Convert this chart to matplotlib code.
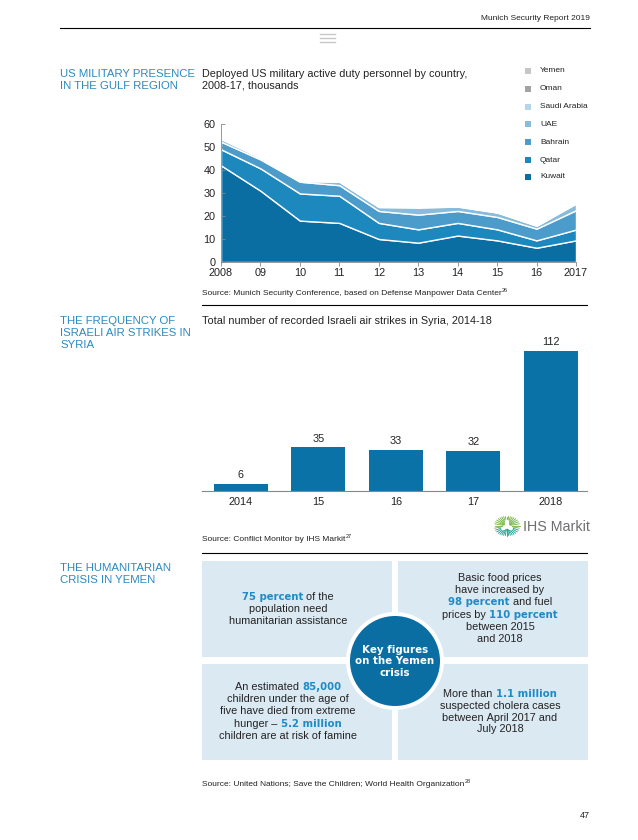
import numpy as np
import matplotlib
matplotlib.use('Agg')
import matplotlib.pyplot as plt
from matplotlib.patches import Rectangle, Circle

plt.rcParams['font.family'] = ['Liberation Sans', 'DejaVu Sans']

W, H = 638, 840

# ---- data: US troops in the Gulf (thousands) ----
years = [2008, 2009, 2010, 2011, 2012, 2013, 2014, 2015, 2016, 2017]
year_labels = ['2008', '09', '10', '11', '12', '13', '14', '15', '16', '2017']
kuwait = [42.0, 31.0, 18.0, 17.0, 10.0, 8.4, 11.5, 9.4, 6.2, 9.4]
qatar = [7.0, 9.7, 11.8, 11.8, 7.0, 5.8, 5.5, 4.8, 3.2, 4.7]
bahrain = [3.3, 3.9, 5.1, 4.6, 5.2, 6.4, 5.2, 5.4, 5.1, 8.4]
uae = [1.2, 0.7, 0.3, 1.5, 1.7, 3.1, 1.9, 1.9, 1.3, 2.9]
saudi = [0.5, 0.4, 0.3, 0.3, 0.3, 0.2, 0.2, 0.2, 0.1, 0.2]
oman = [0.2, 0.1, 0.1, 0.1, 0.1, 0.1, 0.1, 0.1, 0.05, 0.1]
yemen = [0.05, 0.05, 0.05, 0.05, 0.05, 0.05, 0.05, 0.05, 0.05, 0.05]
countries = ['Kuwait', 'Qatar', 'Bahrain', 'UAE', 'Saudi Arabia', 'Oman', 'Yemen']
area_colors = ['#0b6ea3', '#1c88be', '#4c9ccb', '#88bcdc', '#b5d5ea', '#a3a3a3', '#c6c6c6']

# ---- data: Israeli air strikes in Syria ----
strike_years = ['2014', '15', '16', '17', '2018']
strikes = [6, 35, 33, 32, 112]

BLUE = '#2b8ac0'
HIL = '#1f8bc6'
DARK = '#0b6ea3'
BOX = '#dbe9f3'
TXT = '#222222'

fig = plt.figure(figsize=(W / 100, H / 100), dpi=100)
page = fig.add_axes([0, 0, 1, 1])
page.set_xlim(0, W)
page.set_ylim(H, 0)
page.axis('off')
renderer = fig.canvas.get_renderer()


def px_axes(x0, y0, x1, y1):
    return fig.add_axes([x0 / W, 1 - y1 / H, (x1 - x0) / W, (y1 - y0) / H])


def rich_line(x, y, parts, size=7.8, ha='center', zorder=5):
    # parts: (text, color, weight[, size, dy])
    items = []
    for p in parts:
        s, c, w = p[0], p[1], p[2]
        fs = p[3] if len(p) > 3 else size
        dy = p[4] if len(p) > 4 else 0
        fam = ['DejaVu Sans'] if w == 'bold' else ['Liberation Sans', 'DejaVu Sans']
        if w == 'bold':
            fs = fs * 0.93
        t = page.text(0, 0, s.replace(' ', '\u00a0'), fontsize=fs, fontweight=w, family=fam)
        wd = t.get_window_extent(renderer).width
        t.remove()
        items.append((s, c, w, fs, dy, wd, fam))
    total = sum(i[5] for i in items)
    if ha == 'center':
        cx = x - total / 2
    elif ha == 'right':
        cx = x - total
    else:
        cx = x
    for s, c, w, fs, dy, wd, fam in items:
        page.text(cx, y + dy, s.replace(' ', '\u00a0'), fontsize=fs, fontweight=w,
                  family=fam, color=c, ha='left', va='baseline', zorder=zorder)
        cx += wd


# ---- page header ----
page.text(590, 20, 'Munich Security Report 2019', fontsize=6.0, ha='right',
          va='baseline', color=TXT)
page.plot([60, 590], [28, 28], color='black', lw=0.8)
for yy in [34, 38, 42]:
    page.plot([320, 335], [yy, yy], color='#c8c8c8', lw=1.0)

# ---- section 1 ----
page.text(60, 77, 'US MILITARY PRESENCE', fontsize=8.2, color=BLUE, va='baseline')
page.text(60, 89, 'IN THE GULF REGION', fontsize=8.2, color=BLUE, va='baseline')
page.text(202, 77, 'Deployed US military active duty personnel by country,',
          fontsize=7.8, color=TXT, va='baseline')
page.text(202, 89, '2008-17, thousands', fontsize=7.8, color=TXT, va='baseline')

leg_y = [71, 89, 107, 124, 142, 160, 177]
for i, name in enumerate(countries[::-1]):
    col = area_colors[::-1][i]
    page.add_patch(Rectangle((525, leg_y[i] - 3), 6, 6, color=col, lw=0))
    page.text(540, leg_y[i], name, fontsize=6.0, color=TXT, va='center')

ax1 = px_axes(221, 124, 576, 262)
stack = [kuwait, qatar, bahrain, uae, saudi, oman, yemen]
ax1.stackplot(years, stack, colors=area_colors, edgecolor='white', linewidth=1.0)
ax1.set_xlim(2008, 2017)
ax1.set_ylim(0, 60)
ax1.set_yticks([0, 10, 20, 30, 40, 50, 60])
ax1.set_xticks(years)
ax1.set_xticklabels(year_labels)
for s in ['top', 'right']:
    ax1.spines[s].set_visible(False)
for s in ['left', 'bottom']:
    ax1.spines[s].set_color('#888888')
    ax1.spines[s].set_linewidth(0.6)
ax1.tick_params(axis='y', direction='in', length=3, width=0.6, color='#888888',
                labelsize=7.8, pad=4, labelcolor=TXT)
ax1.tick_params(axis='x', direction='out', length=3, width=0.6, color='#888888',
                labelsize=7.8, pad=1, labelcolor=TXT)
ax1.set_facecolor('none')

rich_line(202, 295, [('Source: Munich Security Conference, based on Defense Manpower Data Center',
                      TXT, 'normal', 6.0),
                     ('26', TXT, 'normal', 4.0, -3)], ha='left')
page.plot([202, 587], [305, 305], color='black', lw=0.8)

# ---- section 2 ----
for k, line in enumerate(['THE FREQUENCY OF', 'ISRAELI AIR STRIKES IN', 'SYRIA']):
    page.text(60, 324 + 12 * k, line, fontsize=8.2, color=BLUE, va='baseline')
page.text(202, 324, 'Total number of recorded Israeli air strikes in Syria, 2014-18',
          fontsize=7.8, color=TXT, va='baseline')

ax2 = px_axes(202, 341, 587, 491)
xs = np.arange(len(strikes))
ax2.bar(xs, strikes, width=0.7, color='#0b72a8')
ax2.set_xlim(-0.5, -0.5 + 385 / 77.5)
ax2.set_ylim(0, 120)
for x, v in zip(xs, strikes):
    ax2.text(x, v + 3, str(v), ha='center', va='bottom', fontsize=7.8, color=TXT)
ax2.set_xticks(xs)
ax2.set_xticklabels(strike_years)
ax2.set_yticks([])
for s in ['top', 'right', 'left']:
    ax2.spines[s].set_visible(False)
ax2.spines['bottom'].set_color('#888888')
ax2.spines['bottom'].set_linewidth(0.8)
ax2.tick_params(axis='x', length=0, labelsize=7.8, pad=4, labelcolor=TXT)
ax2.set_facecolor('none')

# IHS Markit logo
cx, cy = 507, 526
ang = np.linspace(0, 2 * np.pi, 36, endpoint=False)
for a in ang:
    r0 = 3 + 2 * (np.sin(3 * a) + 1)
    r1 = 11 + 1.5 * np.cos(2 * a)
    c = '#6cb33f' if np.sin(a) < 0.3 else '#1c9a8c'
    page.plot([cx + r0 * np.cos(a), cx + r1 * np.cos(a)],
              [cy + r0 * np.sin(a), cy + r1 * np.sin(a)], color=c, lw=0.6)
page.text(523, 531, 'IHS Markit', fontsize=10.3, color='#6d6e71', va='baseline')

rich_line(202, 541, [('Source: Conflict Monitor by IHS Markit', TXT, 'normal', 6.0),
                     ('27', TXT, 'normal', 4.0, -3)], ha='left')
page.plot([202, 587], [553, 553], color='black', lw=0.8)

# ---- section 3 ----
page.text(60, 571, 'THE HUMANITARIAN', fontsize=8.2, color=BLUE, va='baseline')
page.text(60, 583, 'CRISIS IN YEMEN', fontsize=8.2, color=BLUE, va='baseline')

page.add_patch(Rectangle((202, 561), 190, 96, color=BOX, lw=0))
page.add_patch(Rectangle((398, 561), 190, 96, color=BOX, lw=0))
page.add_patch(Rectangle((202, 664), 190, 96, color=BOX, lw=0))
page.add_patch(Rectangle((398, 664), 190, 96, color=BOX, lw=0))
page.add_patch(Circle((395, 661), 49, color='white', lw=0, zorder=3))
page.add_patch(Circle((395, 661), 45, color=DARK, lw=0, zorder=4))
for k, line in enumerate(['Key figures', 'on the Yemen', 'crisis']):
    page.text(395, 653 + 11.5 * k, line, fontsize=7.4, fontweight='bold',
              family=['DejaVu Sans'], color='white', ha='center', va='baseline',
              zorder=5)

N = 'normal'
B = 'bold'
tl = [[('75 percent', HIL, B), (' of the', TXT, N)],
      [('population need', TXT, N)],
      [('humanitarian assistance', TXT, N)]]
tr = [[('Basic food prices', TXT, N)],
      [('have increased by', TXT, N)],
      [('98 percent', HIL, B), (' and fuel', TXT, N)],
      [('prices by ', TXT, N), ('110 percent', HIL, B)],
      [('between 2015', TXT, N)],
      [('and 2018', TXT, N)]]
bl = [[('An estimated ', TXT, N), ('85,000', HIL, B)],
      [('children under the age of', TXT, N)],
      [('five have died from extreme', TXT, N)],
      [('hunger \u2013 ', TXT, N), ('5.2 million', HIL, B)],
      [('children are at risk of famine', TXT, N)]]
br = [[('More than ', TXT, N), ('1.1 million', HIL, B)],
      [('suspected cholera cases', TXT, N)],
      [('between April 2017 and', TXT, N)],
      [('July 2018', TXT, N)]]

for k, parts in enumerate(tl):
    rich_line(288, 600 + 12 * k, parts)
for k, parts in enumerate(tr):
    rich_line(500, 581 + 12.2 * k, parts)
for k, parts in enumerate(bl):
    rich_line(288, 690 + 12.2 * k, parts)
for k, parts in enumerate(br):
    rich_line(500, 697 + 11.8 * k, parts)

rich_line(202, 786, [('Source: United Nations; Save the Children; World Health Organization',
                      TXT, 'normal', 6.0),
                     ('28', TXT, 'normal', 4.0, -3)], ha='left')
page.text(590, 818, '47', fontsize=6.5, ha='right', va='baseline', color=TXT)

fig.savefig('out.png', dpi=100)
